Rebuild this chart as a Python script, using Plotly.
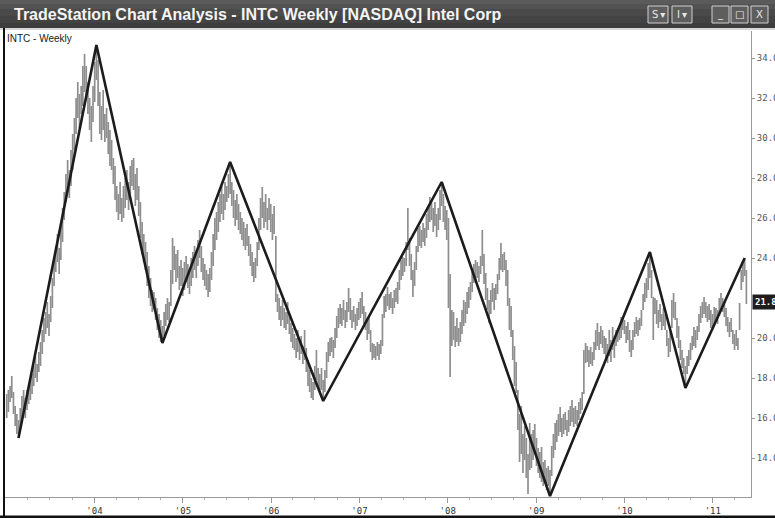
import pandas as pd
import plotly.graph_objects as go

# ---------------- data (weekly bars, INTC) ----------------
lo_2003 = [16.0,16.3,16.8,17.0,16.2,15.6,15.2,15.0,15.4,15.9, 16.3,16.0,16.4,16.7,16.9,17.2,17.6,18.0,17.8,18.3,
           18.6,19.2,19.8,20.2,20.5,20.1,20.8,21.5,22.6,23.3, 23.8,23.2,23.9,24.8,25.9,26.8,27.3,27.0,27.6,28.4,
           29.4,30.2,31.0,30.5,31.2,31.6,32.3,32.0,31.2,30.4, 29.8,30.8]
hi_2003 = [17.2,17.4,17.6,18.1,17.3,16.6,16.2,15.9,16.5,17.1, 17.4,17.0,17.4,17.6,17.9,18.2,18.6,19.1,18.7,19.3,
           19.8,20.4,21.0,21.3,21.8,21.2,22.1,23.0,24.0,24.6, 25.2,24.5,25.6,26.5,27.3,28.2,28.9,28.4,29.4,30.2,
           31.0,32.0,32.8,32.2,32.6,33.6,34.2,33.6,32.8,32.0, 31.6,32.6]
lo_2004 = [31.8,32.9,31.6,30.2,29.9,30.4,29.8,30.0,29.2,28.6, 28.4,27.7,26.9,26.3,25.9,26.2,25.8,26.0,26.5,26.9,
           26.4,27.2,27.6,27.4,26.6,26.9,26.1,25.0,24.2,23.8, 23.4,22.6,22.0,21.6,21.3,21.4,20.9,20.4,20.0,19.8,
           19.75,20.1,20.6,20.9,20.8,21.6,22.7,23.4,22.8,23.0, 22.4,22.6]
hi_2004 = [33.8,34.65,33.9,32.3,31.6,32.4,31.2,31.5,30.8,30.4, 29.9,29.0,28.6,27.6,27.2,27.8,27.0,27.6,28.0,28.4,
           27.8,28.6,28.9,29.0,28.2,28.5,27.6,26.8,25.8,25.2, 24.8,24.3,23.6,23.0,22.4,22.3,22.0,21.5,21.2,20.9,
           20.6,21.3,21.7,22.0,21.8,23.4,25.0,24.6,24.2,24.4, 23.6,23.9]
lo_2005 = [22.1,22.4,22.8,22.5,22.2,22.6,23.0,23.4,23.0,23.6, 24.0,23.3,22.9,22.6,22.4,22.05,22.3,22.9,23.6,24.4,
           24.9,25.3,25.8,26.2,25.9,26.4,26.8,27.0,27.2,26.6, 26.0,25.6,25.9,25.4,25.2,24.9,24.6,24.4,24.6,24.1,
           23.6,23.1,22.8,23.0,23.6,24.4,25.4,26.0,25.5,25.8, 25.4,25.9]
hi_2005 = [23.5,23.8,24.1,23.7,23.3,24.0,24.3,24.6,24.2,24.9, 25.4,24.6,24.0,23.7,23.4,23.2,23.5,24.3,25.2,26.0,
           26.3,26.8,27.2,27.6,27.2,27.8,27.6,28.2,28.8,27.8, 27.4,26.9,27.2,26.7,26.3,26.0,25.8,25.5,25.7,25.1,
           24.7,24.3,23.8,24.0,24.8,26.0,27.0,27.55,26.8,27.2, 26.5,27.0]
lo_2006 = [25.3,24.9,25.2,21.8,21.3,20.9,20.6,20.9,20.5,20.4, 20.7,20.2,19.8,19.5,19.4,19.0,19.3,18.9,19.2,18.7,
           18.9,18.3,17.6,17.3,17.0,16.9,17.4,17.9,17.5,17.2, 17.4,16.85,17.3,18.0,18.8,19.1,19.3,19.0,19.5,20.0,
           20.5,20.7,20.6,20.9,20.5,20.8,21.3,20.9,20.5,20.8, 20.4,20.6]
hi_2006 = [26.7,26.2,26.6,25.1,22.2,22.0,21.6,21.9,21.5,21.3, 21.8,21.2,20.75,20.5,20.2,20.0,20.4,19.8,20.1,19.6,
           20.4,19.5,18.9,18.4,18.0,17.8,18.6,19.4,18.5,18.2, 18.5,17.9,18.4,19.3,19.8,20.0,20.05,19.9,20.5,21.1,
           21.5,21.7,21.5,21.9,21.4,21.8,22.5,22.0,21.4,21.6, 21.2,21.5]
lo_2007 = [20.9,21.0,21.2,20.7,20.4,19.9,20.2,19.3,18.9,19.0, 18.9,19.1,18.9,19.2,19.6,21.0,21.3,21.6,21.4,21.5,
           21.2,21.5,21.8,21.7,22.4,22.9,23.1,23.3,23.6,24.4, 23.6,22.9,22.05,22.6,23.4,24.3,24.6,24.5,24.8,24.6,
           25.0,25.4,25.8,25.9,25.3,25.6,25.05,25.4,25.9,26.6, 25.8,25.4]
hi_2007 = [21.8,22.0,22.3,21.6,21.3,21.0,21.1,20.4,19.75,19.7, 19.6,19.8,19.7,19.9,21.2,22.1,22.2,22.55,22.2,22.3,
           22.0,22.4,22.5,22.8,23.4,23.9,24.05,24.0,24.8,26.5, 25.0,24.2,23.4,23.8,24.6,25.5,25.6,25.4,25.75,25.5,
           26.2,26.6,27.05,26.9,26.5,26.8,26.2,26.5,27.4,27.8, 27.2,26.6]
lo_2008 = [24.9,21.5,18.05,19.6,19.9,19.55,19.8,19.6,19.8,20.2, 20.6,20.75,21.2,21.5,21.9,22.3,22.75,22.9,23.0,22.8,
           23.2,23.6,22.7,21.9,21.4,20.75,21.2,21.8,21.4,21.9, 22.2,22.9,23.4,23.3,23.4,22.6,21.6,20.4,20.05,18.9,
           17.6,17.25,15.4,13.8,14.2,13.25,13.9,13.0,12.2,13.4, 13.5,13.9]
hi_2008 = [26.4,26.0,23.2,21.4,21.3,20.6,21.0,20.5,20.8,21.4, 21.9,21.8,22.3,22.55,22.8,23.3,23.7,23.9,23.8,23.6,
           24.1,25.4,24.2,23.25,22.5,21.9,22.4,22.75,22.5,22.7, 23.2,24.0,24.75,24.2,24.3,23.9,23.4,22.0,21.6,20.4,
           19.6,18.8,17.4,16.2,16.6,15.2,15.6,15.0,14.2,15.75, 15.2,15.4]
lo_2009 = [14.2,13.6,13.25,13.0,12.8,12.6,12.9,12.4,12.6,12.1, 13.1,14.0,14.4,14.8,15.1,15.3,15.05,15.2,15.4,15.1,
           15.3,15.6,15.8,15.55,15.7,15.6,15.9,16.2,16.4,17.2, 18.75,18.8,18.55,18.7,18.6,18.9,19.4,19.6,19.4,19.7,
           19.5,19.2,18.9,18.75,19.1,18.8,19.4,19.0,19.6,19.8, 19.9,20.0]
hi_2009 = [15.7,15.0,14.5,14.3,14.55,13.8,13.9,13.5,13.6,13.4, 14.6,15.2,15.75,15.9,16.2,16.55,16.0,16.2,16.3,15.9,
           16.4,16.6,16.9,16.5,16.6,16.4,16.8,17.0,17.3,19.4, 19.75,19.6,19.4,19.55,19.3,19.8,20.4,20.75,20.3,20.6,
           20.4,20.1,20.0,19.7,20.4,19.9,20.55,20.1,20.4,20.5, 20.6,21.05]
lo_2010 = [20.4,20.2,19.75,19.9,19.3,19.05,19.4,20.05,20.2,20.1, 20.4,20.6,21.4,21.8,22.0,22.4,23.0,22.0,19.9,21.2,
           20.7,20.5,20.8,20.4,20.6,20.4,19.6,19.05,19.3,20.5, 21.0,20.9,20.0,19.5,18.9,18.5,18.2,17.5,18.2,18.6,
           18.9,19.4,19.6,19.5,19.9,20.3,20.75,21.0,21.2,21.0, 20.8,20.9]
hi_2010 = [21.05,20.9,20.6,20.8,20.4,19.9,20.4,20.8,21.05,20.9, 21.0,21.4,22.2,22.75,23.0,23.75,24.3,23.4,22.05,22.0,
           21.9,21.4,21.7,21.2,21.5,21.2,20.4,20.0,20.3,21.9, 22.25,21.8,21.0,20.6,19.9,19.4,19.0,18.6,19.1,19.4,
           19.75,20.1,20.55,20.4,20.6,21.2,21.6,21.8,22.05,21.8, 21.6,21.7]
lo_2011 = [20.5,20.4,20.6,20.9,20.7,21.1,21.4,21.3,21.05,20.6, 20.3,20.05,20.3,19.7,19.4,19.6,19.4,20.4,22.4,22.8,
           23.1,21.7]
hi_2011 = [21.4,21.2,21.55,21.5,21.4,22.0,22.25,22.0,21.8,21.5, 21.05,20.8,21.0,20.4,20.2,20.4,20.0,21.75,23.4,23.75,
           24.0,23.4]

first_week = "2003-01-03"
# zig-zag pivots (bar number, price)
zz_bar = [7, 53, 92, 132, 187, 257, 321, 380, 401, 436]
zz_price = [15.0, 34.65, 19.75, 28.8, 16.85, 27.8, 12.1, 24.3, 17.5, 24.0]
last_price = 21.8

year_ticks = ["2004-01-01", "2005-01-01", "2006-01-01", "2007-01-01",
              "2008-01-01", "2009-01-01", "2010-01-01", "2011-01-01"]
year_labels = ["'04", "'05", "'06", "'07", "'08", "'09", "'10", "'11"]
price_ticks = [14, 16, 18, 20, 24, 26, 28, 30, 32, 34]

title = "TradeStation Chart Analysis - INTC Weekly [NASDAQ] Intel Corp"
sub_label = "INTC - Weekly"

# ---------------- build ----------------
lows = lo_2003 + lo_2004 + lo_2005 + lo_2006 + lo_2007 + lo_2008 + lo_2009 + lo_2010 + lo_2011
highs = hi_2003 + hi_2004 + hi_2005 + hi_2006 + hi_2007 + hi_2008 + hi_2009 + hi_2010 + hi_2011
dates = pd.date_range(first_week, periods=len(lows), freq="7D")

bx, by = [], []
for d, lo, hi in zip(dates, lows, highs):
    bx += [d, d, None]
    by += [lo, hi, None]

zz_x = [dates[i] for i in zz_bar]

fig = go.Figure()
fig.add_trace(go.Scatter(x=bx, y=by, mode="lines",
                         line=dict(color="#8e8e8e", width=1.7),
                         hoverinfo="skip", showlegend=False))
fig.add_trace(go.Scatter(x=zz_x, y=zz_price, mode="lines",
                         line=dict(color="#1c1c1c", width=2.6),
                         showlegend=False))

# plot area in pixels
L, R, T, B = 5, 751, 31, 497
W, H = 775, 518


def px(x):
    return (x - L) / (R - L)


def py(y):
    return (B - y) / (B - T)


shapes = []
# title bar (banded to imitate gradient)
bands = [("#5b5b5b", 0, 4), ("#525252", 4, 9), ("#4a4a4a", 9, 16), ("#434343", 16, 23), ("#3d3d3d", 23, 28)]
for col, y0, y1 in bands:
    shapes.append(dict(type="rect", xref="paper", yref="paper",
                       x0=px(-2), x1=px(W + 2), y0=py(y1), y1=py(y0),
                       fillcolor=col, line=dict(width=0), layer="above"))
shapes.append(dict(type="rect", xref="paper", yref="paper",
                   x0=px(-2), x1=px(W + 2), y0=py(30), y1=py(28),
                   fillcolor="#d8d8d8", line=dict(width=0), layer="above"))
# window buttons
buttons = [(648, 668, "S\u2009\u25be"), (672, 692, "I\u2009\u25be"), (712, 729, "_"), (731, 748, "\u25a1"), (751, 768, "X")]
annotations = []
for x0, x1, txt in buttons:
    shapes.append(dict(type="rect", xref="paper", yref="paper",
                       x0=px(x0), x1=px(x1), y0=py(23), y1=py(6),
                       fillcolor="#5e5e5e", line=dict(color="#d0d0d0", width=1), layer="above"))
    annotations.append(dict(xref="paper", yref="paper", x=px((x0 + x1) / 2), y=py(14.5),
                            text=txt, showarrow=False, xanchor="center", yanchor="middle",
                            font=dict(family="DejaVu Sans", size=10, color="#e8e8e8")))
# frame: left and bottom black borders
shapes.append(dict(type="line", xref="paper", yref="paper",
                   x0=px(4), x1=px(4), y0=py(H), y1=py(28),
                   line=dict(color="#111111", width=2), layer="above"))
shapes.append(dict(type="line", xref="paper", yref="paper",
                   x0=px(0), x1=px(W), y0=py(517), y1=py(517),
                   line=dict(color="#111111", width=3), layer="above"))

annotations.append(dict(xref="paper", yref="paper", x=px(12), y=py(14.5),
                        text="<b>" + title + "</b>", showarrow=False,
                        xanchor="left", yanchor="middle",
                        font=dict(family="Liberation Sans Narrow, Liberation Sans", size=16, color="#f4f4f4")))
annotations.append(dict(xref="paper", yref="paper", x=px(5), y=py(38.5),
                        text=sub_label, showarrow=False, xanchor="left", yanchor="middle",
                        font=dict(family="Liberation Sans", size=10, color="#1a1a1a")))
annotations.append(dict(xref="paper", yref="y", x=px(752), y=last_price,
                        text="<b>%.2f</b>" % last_price, showarrow=False,
                        xanchor="left", yanchor="middle", bgcolor="#1e1e1e", borderpad=2,
                        font=dict(family="DejaVu Sans Mono", size=9, color="#ffffff")))

start = dates[0] - pd.Timedelta(days=7)
end = start + pd.Timedelta(days=(R - L) / 0.2418)

fig.update_layout(
    width=W, height=H,
    margin=dict(l=L, r=W - R, t=T, b=H - B, autoexpand=False),
    paper_bgcolor="white", plot_bgcolor="white",
    shapes=shapes, annotations=annotations,
    showlegend=False,
    xaxis=dict(type="date", range=[start, end], automargin=False,
               tickmode="array", tickvals=year_ticks, ticktext=year_labels,
               showgrid=False, zeroline=False,
               showline=True, linecolor="#9a9a9a", linewidth=1,
               ticks="outside", ticklen=5, tickcolor="#9a9a9a",
               tickfont=dict(family="DejaVu Sans Mono", size=9, color="#333333"),
               minor=dict(ticks="outside", ticklen=2, tickcolor="#b0b0b0",
                          tickvals=list(pd.date_range("2003-04-01", "2011-06-01", freq="3MS")))),
    yaxis=dict(side="right", range=[12.05, 35.35], automargin=False,
               tickmode="array", tickvals=price_ticks,
               ticktext=["%.2f" % v for v in price_ticks],
               showgrid=False, zeroline=False,
               showline=True, linecolor="#9a9a9a", linewidth=1,
               ticks="outside", ticklen=3, tickcolor="#9a9a9a",
               tickfont=dict(family="DejaVu Sans Mono", size=9, color="#555555")),
)

fig.write_html("out.html", config={"displayModeBar": False},
               post_script="document.body.style.margin='0';document.body.style.overflow='hidden';")
